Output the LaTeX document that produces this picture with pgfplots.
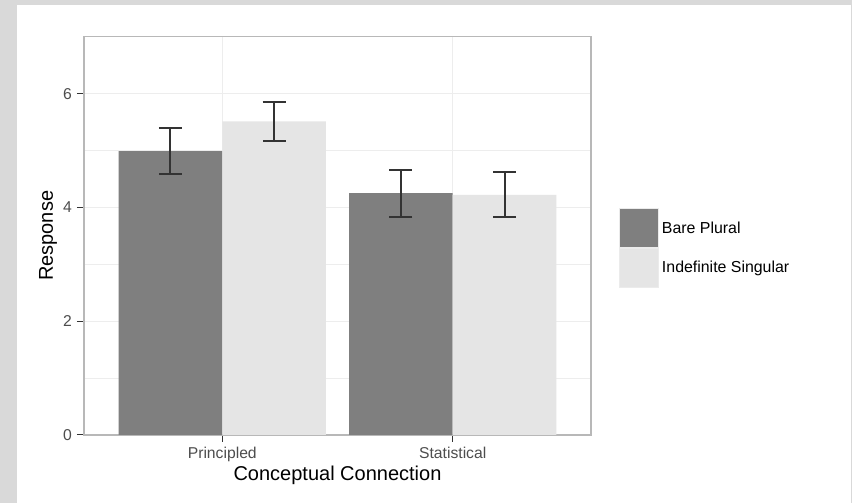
\documentclass[border=0pt]{standalone}
\usepackage{fontspec}
\setmainfont{Liberation Sans}
\usepackage{pgfplots}
\pgfplotsset{compat=1.18}
\definecolor{darkbar}{HTML}{7F7F7F}
\definecolor{lightbar}{HTML}{E5E5E5}
\definecolor{gridc}{HTML}{EDEDED}
\definecolor{framec}{HTML}{D9D9D9}
\definecolor{borderc}{HTML}{B8B8B8}
\definecolor{tickc}{HTML}{4D4D4D}
\begin{document}
\begin{tikzpicture}[x=1pt,y=1pt]
\fill[framec] (-84,-68) rectangle (768,435);
\fill[white] (-67,-68) rectangle (767,430);
\begin{axis}[
  scale only axis, width=507pt, height=398.3pt,
  xmin=0.4, xmax=2.6, ymin=0, ymax=7,
  xtick={1,2}, xticklabels={Principled,Statistical},
  ytick={0,2,4,6}, minor ytick={1,3,5},
  xtick pos=bottom, ytick pos=left,
  grid=both,
  major grid style={gridc, line width=1pt},
  minor grid style={gridc, line width=0.6pt},
  axis line style={borderc, line width=1.2pt},
  tick align=outside, major tick length=7pt, minor tick length=0pt,
  tick style={black!80, line width=1pt},
  ybar, bar width=0.45,
  tick label style={font=\fontsize{15.7}{18}\selectfont, text=tickc, inner sep=0pt},
  yticklabel style={xshift=-5pt},
  xticklabel style={yshift=-5pt},
  /pgf/number format/assume math mode=true,
  every axis x label/.style={at={(axis description cs:0.5,-0.1004)}, anchor=center, font=\fontsize{20}{24}\selectfont},
  every axis y label/.style={at={(axis description cs:-0.071,0.5)}, anchor=center, rotate=90, font=\fontsize{20}{24}\selectfont},
  xlabel={Conceptual Connection}, ylabel={Response},
  legend style={at={(axis description cs:1.0552,0.5699)}, anchor=north west, draw=none, fill=none,
    font=\fontsize{15.9}{18}\selectfont, inner sep=0pt, row sep=0pt, nodes={inner sep=3pt}},
  legend cell align=left,
  legend image code/.code={\filldraw[#1, draw=black!8, line width=0.8pt] (0pt,-19.5pt) rectangle (39pt,19.5pt);},
  error bars/y dir=both, error bars/y explicit,
  error bars/error bar style={line width=2pt, black!80},
  error bars/error mark options={line width=2pt, black!80, mark size=11.5pt, rotate=90},
]
\addplot[fill=darkbar, draw=none, bar shift=-0.225] coordinates {(1,4.99) +- (0,0.41) (2,4.25) +- (0,0.415)};
\addplot[fill=lightbar, draw=none, bar shift=0.225] coordinates {(1,5.51) +- (0,0.335) (2,4.22) +- (0,0.395)};
\legend{Bare Plural, Indefinite Singular}
\end{axis}
\end{tikzpicture}
\end{document}
